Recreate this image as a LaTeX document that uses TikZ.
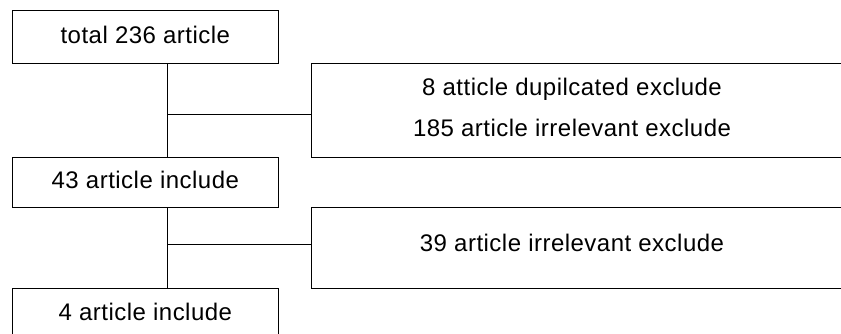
\documentclass[tikz,border=0pt]{standalone}
\usepackage{fontspec}
\setmainfont[LetterSpace=2]{Liberation Sans}
\begin{document}
\begin{tikzpicture}[x=1pt,y=1pt,
  box/.style={draw, line width=1pt, minimum width=266.7pt, inner sep=0pt,
    font=\fontsize{24}{28}\selectfont, text height=15pt, text depth=3pt},
  sidebox/.style={draw, line width=1pt, inner sep=0pt, minimum width=540pt},
  lbl/.style={font=\fontsize{24}{28}\selectfont, anchor=base, inner sep=0pt},
  conn/.style={line width=1pt}]
\useasboundingbox (0,0) rectangle (841,333);
\clip (0,0) rectangle (841,333);
% main column
\node[box, minimum height=52pt] (b1) at (145.35,296) {total 236 article};
\node[box, minimum height=50pt] (b2) at (145.35,150.7) {43 article include};
\node[box, minimum height=52pt] (b3) at (145.35,18.7) {4 article include};
% side boxes
\node[sidebox, minimum height=94pt] (r1) at (581.7,222.7) {};
\node[sidebox, minimum height=81pt] (r2) at (581.7,85.2) {};
\node[lbl] (t1a) at (572,238) {8 atticle dupilcated exclude};
\node[lbl] (t1b) at (572,197) {185 article irrelevant exclude};
\node[lbl] (t2) at (572,81.3) {39 article irrelevant exclude};
% connectors
\coordinate (j1) at (167.5,219);
\coordinate (j2) at (167.5,88.7);
\draw[conn] (b1.south -| j1) -- (b2.north -| j1);
\draw[conn] (j1) -- (j1 -| r1.west);
\draw[conn] (b2.south -| j2) -- (b3.north -| j2);
\draw[conn] (j2) -- (j2 -| r2.west);
\end{tikzpicture}
\end{document}
